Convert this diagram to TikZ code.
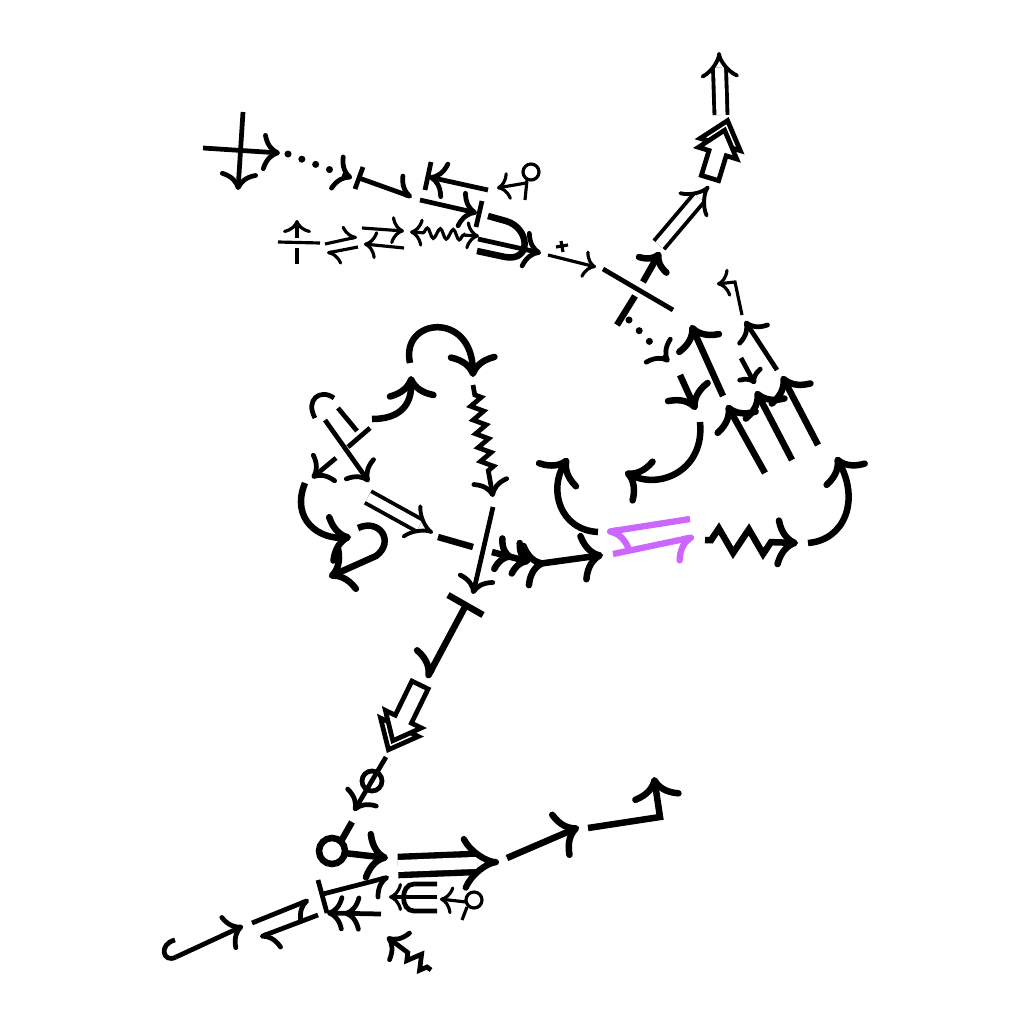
\documentclass[tikz,border=0pt]{standalone}
\usetikzlibrary{arrows.meta,decorations.pathmorphing,calc}
\definecolor{purp}{RGB}{204,102,255}
\tikzset{
 thn/.style={line width=0.9pt},
 nrm/.style={line width=1.35pt},
 thk/.style={line width=1.85pt},
 hd/.style={-{To[length=1.8mm,width=3.8mm]}},
 hds/.style={-{To[length=1.3mm,width=2.8mm]}},
 hdb/.style={-{To[length=2.3mm,width=5mm]}},
 dotln/.style={line width=2pt, line cap=round, dash pattern=on 0pt off 4.2pt},
 dbl/.style={double, double distance=2.6pt, line width=1.1pt, -{Implies[length=2mm,width=5mm]}},
 zz/.style={decorate, decoration={zigzag, segment length=1.4mm, amplitude=0.6mm, pre length=1mm, post length=2mm}},
}
\newcommand\fatarr[4]{%
 \begin{scope}[shift={(#1,#2)}, rotate=#3]
  \draw[nrm, fill=white, line join=miter] (#4-25,-21) -- (#4,0) -- (#4-25,21) -- cycle;
  \draw[nrm, fill=white, line join=miter] (0,-9) -- (#4-34,-9) -- (#4-34,-20) -- (#4-10,0) -- (#4-34,20) -- (#4-34,9) -- (0,9) -- cycle;
 \end{scope}}
\begin{document}
\begin{tikzpicture}[x=0.01cm,y=-0.01cm]
\path[use as bounding box] (0,0) rectangle (1024,1024);
% ---------- top-left cluster
\coordinate (a1s) at (203,148); \coordinate (a1e) at (280,153);
\coordinate (a2s) at (243,112); \coordinate (a2e) at (238,190);
\draw[nrm,hd] (a1s) -- (a1e);
\draw[nrm,hd] (a2s) -- (a2e);
\coordinate (a3s) at (288,154); \coordinate (a3e) at (352,178);
\draw[dotln] (a3s) -- ($(a3e)!0.25!(a3s)$);
\draw[nrm,hd] ($(a3e)!0.15!(a3s)$) -- (a3e);
\coordinate (a4s) at (359,178); \coordinate (a4e) at (412,197);
\draw[nrm] (363,167) -- (355,189);
\draw[nrm,-{To[left,length=1.8mm,width=3.8mm]}] (a4s) -- (a4e);
\coordinate (a5s) at (488,190); \coordinate (a5e) at (429,177);
\draw[nrm,hd] (a5s) -- (a5e);
\draw[nrm] (431,162) -- (425,190);
\coordinate (a6s) at (526,183); \coordinate (a6e) at (497,188);
\draw[thn,hds] (a6s) -- (a6e);
\draw[thn] (531,172) circle (8);
\draw[thn] (527,180) -- (525,200);
\coordinate (a7s) at (420,200); \coordinate (a7e) at (477,213);
\draw[nrm,hd] (a7s) -- (a7e);
\draw[nrm] (482,201) -- (476,227);
\coordinate (a8s) at (410,232); \coordinate (a8e) at (479,236);
\draw[thn,{To[length=1.3mm,width=2.8mm]}-{To[length=1.3mm,width=2.8mm]},decorate,decoration={snake,segment length=1.3mm,amplitude=0.5mm,pre length=1.3mm,post length=1.3mm}] (a8s) -- (a8e);
\coordinate (a9s) at (478,239); \coordinate (a9e) at (541,253);
\draw[nrm,hd] (a9s) -- (a9e);
\draw[thk] (488,216) -- (506,221) .. controls (530,228) and (532,262) .. (505,257) -- (477,251);
\coordinate (a10s) at (548,255); \coordinate (a10e) at (596,267);
\draw[thn,hds] (a10s) -- (a10e);
\draw[thn] (556,247) -- (568,245) (561,241) -- (563,252);
\coordinate (a11a) at (278,242); \coordinate (a11b) at (320,243);
\draw[thn] (a11a) -- (a11b);
\coordinate (a11s) at (297,238); \coordinate (a11e) at (297,220);
\draw[thn,hds] (a11s) -- (a11e);
\draw[thn] (297,248) -- (297,264);
\coordinate (a12s) at (325,244); \coordinate (a12e) at (357,237);
\draw[thn,-{To[left,length=1.3mm,width=2.8mm]}] (a12s) -- (a12e);
\coordinate (a12t) at (358,247); \coordinate (a12u) at (327,253);
\draw[thn,-{To[left,length=1.3mm,width=2.8mm]}] (a12t) -- (a12u);
\coordinate (a13s) at (362,228); \coordinate (a13e) at (404,231);
\draw[thn,hds] (a13s) -- (a13e);
\coordinate (a13t) at (404,248); \coordinate (a13u) at (364,244);
\draw[thn,hds] (a13t) -- (a13u);
% ---------- upper spine
\draw[nrm] (603,269) -- (673,310);
\coordinate (b2s) at (617,325); \coordinate (b2e) at (660,252);
\draw[thk] (b2s) -- (635,296);
\draw[thk,hd] (643,282) -- (b2e);
\coordinate (b3s) at (629,320); \coordinate (b3e) at (669,362);
\draw[dotln] (b3s) -- ($(b3e)!0.25!(b3s)$);
\draw[nrm,hd] ($(b3e)!0.15!(b3s)$) -- (b3e);
\coordinate (b4s) at (659,245); \coordinate (b4e) at (709,186);
\draw[dbl] (b4s) -- (b4e);
\fatarr{710}{178}{73}{60}
\coordinate (b6s) at (721,115); \coordinate (b6e) at (719,52);
\draw[dbl] (b6s) -- (b6e);
% ---------- right cluster
\draw[thn,hds] (742,315) -- (735,282) -- (717,284);
\draw[nrm,hd] (777,370) -- (745,321);
\draw[thk,hdb] (723,396) -- (691,325);
\draw[nrm,hds] (741,358) -- (755,384);
\draw[thk,hdb] (765,473) -- (727,405);
\draw[thk,hdb] (792,460) -- (756,391);
\draw[thk,hdb] (818,445) -- (782,376);
\draw[thk,hdb] (680,375) -- (696,410);
\draw[thk,hdb] (700,422) .. controls (705,470) and (660,490) .. (625,472);
\draw[thk,hdb] (598,532) .. controls (560,530) and (548,490) .. (568,458);
\draw[thk,hdb] (808,543) .. controls (845,540) and (860,500) .. (836,457);
\draw[purp,line width=1.8pt,-{To[left,length=2.2mm,width=4.6mm]}] (690,519) -- (607,532);
\draw[purp,line width=1.8pt,-{To[right,length=2.2mm,width=4.6mm]}] (613,554) -- (694,537);
\draw[thk,hdb,decorate,decoration={zigzag,segment length=3mm,amplitude=1.2mm,pre length=0.6mm,post length=2.6mm}] (705,540) -- (798,543);
\draw[thk,{To[reversed,length=2.2mm,width=4.6mm]}-{To[length=2.3mm,width=5mm]}] (523,566) -- (603,555);
\draw[thk] (438,537) -- (473,547);
\draw[thk,-{To[length=1.8mm,width=3.8mm]To[length=1.8mm,width=3.8mm]}] (492,552) -- (530,562);
\draw[nrm,hd] (493,507) -- (473,594);
% ---------- lower spine
\draw[thk] (448,595) -- (483,615);
\draw[thk,-{To[right,length=2.3mm,width=5mm]}] (466,605) -- (427,678);
\fatarr{420}{685}{-116}{72}
\draw[nrm,hd] (386,757) -- (354,811);
\draw[nrm] (372,781) circle (10);
\draw[thk] (352,822) -- (340,843);
\draw[thk] (332,851) circle (13);
\draw[thk,hdb] (344,853) -- (388,858);
\draw[double, double distance=3.4pt, line width=1.8pt, -{Implies[length=3mm,width=7mm]}] (398,866) -- (499,862);
\draw[thk,hdb] (507,858) -- (579,827);
\draw[thk,hdb] (588,828) -- (660,817) -- (654,777);
% ---------- bottom-left
\draw[nrm,hd] (176,957) -- (243,926);
\draw[nrm] (176,957) .. controls (163,964) and (158,944) .. (175,940);
\draw[nrm,-{To[right,length=1.8mm,width=3.8mm]}] (252,923) -- (309,900);
\draw[nrm,-{To[left,length=1.8mm,width=3.8mm]}] (318,915) -- (260,937);
\draw[nrm] (318,880) -- (327,913);
\draw[nrm,-{To[right,length=1.8mm,width=3.8mm]}] (323,894) -- (389,877);
\draw[nrm,-{To[length=1.7mm,width=3.6mm]To[length=1.7mm,width=3.6mm]}] (381,914) -- (327,913);
\draw[nrm,hd,decorate,decoration={zigzag,segment length=1.6mm,amplitude=0.7mm,pre length=0.5mm,post length=2mm}] (431,970) -- (387,937);
\draw[thn,hds] (437,897) -- (389,897);
\draw[nrm] (437,884) -- (414,884) .. controls (400,884) and (400,911) .. (414,911) -- (437,911);
\draw[thn,hds] (466,902) -- (440,899);
\draw[thn] (474,900) circle (8);
\draw[thn] (467,907) -- (462,920);
% ---------- left-middle cluster
\draw[thk,hdb] (410,363) .. controls (400,318) and (472,310) .. (473,377);
\draw[nrm,hd,zz] (473,385) -- (493,497);
\draw[thk,hdb] (372,419) .. controls (400,419) and (412,405) .. (411,376);
\draw[nrm] (370,428) -- (348,447);
\draw[nrm,hd] (336,458) -- (312,478);
\draw[nrm,hd] (325,420) -- (369,482);
\draw[nrm] (338,408) -- (357,431);
\draw[nrm] (315,418) .. controls (305,400) and (320,388) .. (334,398);
\draw[dbl] (368,497) -- (433,533);
\draw[thk,hdb] (305,483) .. controls (290,520) and (320,540) .. (351,537);
\draw[thk,hdb] (358,528) .. controls (380,518) and (395,542) .. (376,556) -- (329,577);
\end{tikzpicture}
\end{document}
